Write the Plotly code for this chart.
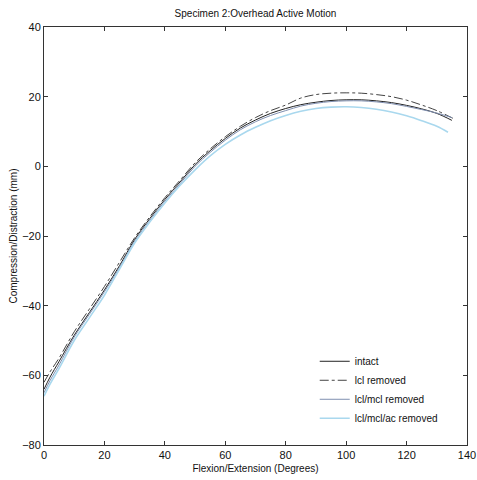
import plotly.graph_objects as go

x_deg = [0, 2, 5, 10, 15, 20, 25, 30, 35, 40, 45, 50, 55, 60, 65, 70, 75, 80, 85, 90, 95, 100, 105, 110, 115, 120, 125, 130, 135]

intact = [-64, -60.5, -56, -48.5, -42, -35.5, -28.5, -21, -15, -9.5, -4.5, 0.5, 4.5, 8, 11, 13.3, 15.2, 16.6, 17.7, 18.4, 18.9, 19.1, 19.1, 18.8, 18.3, 17.5, 16.5, 15.2, 13.2]
lcl_removed = [-62, -59, -55, -47.5, -41, -34.5, -27.5, -20.5, -14.5, -9, -4, 1, 5, 8.5, 11.5, 14, 16, 17.6, 19.6, 20.6, 21.0, 21.1, 21.0, 20.6, 20.0, 19.0, 17.6, 16.0, 13.5]
lcl_mcl_removed = [-65, -61.5, -57, -49, -42.5, -36, -29, -21.5, -15.5, -10, -5, 0, 4, 7.5, 10.5, 12.8, 14.6, 16.0, 17.3, 18.1, 18.6, 18.8, 18.8, 18.5, 18.0, 17.2, 16.3, 15.3, 14.0]
lcl_mcl_ac_removed = [-66, -62.5, -58, -50, -43.5, -37, -29.5, -22, -16, -10.5, -5.5, -1, 3, 6.3, 9, 11.2, 13.1, 14.6, 15.8, 16.6, 17.0, 17.1, 16.9, 16.4, 15.6, 14.5, 13.1, 11.5, 9.8]

x_end = [135, 136, 135, 133.7]

fig = go.Figure()
series = [
    ("intact", intact, dict(color="#222222", width=1, dash="solid")),
    ("lcl removed", lcl_removed, dict(color="#444444", width=1, dash="dashdot")),
    ("lcl/mcl removed", lcl_mcl_removed, dict(color="#7f8fb0", width=1, dash="solid")),
    ("lcl/mcl/ac removed", lcl_mcl_ac_removed, dict(color="#a9d8ee", width=1.6, dash="solid")),
]
for (name, ys, line), xe in zip(series, x_end):
    xs = x_deg[:-1] + [xe]
    fig.add_trace(go.Scatter(x=xs, y=ys, mode="lines", name=name, line=dict(shape="spline", **line)))

font_family = "Liberation Sans, Arial"
axis_common = dict(
    showgrid=False, zeroline=False, showline=True, linecolor="#333333", linewidth=1,
    mirror="ticks", ticks="inside", ticklen=4, tickcolor="#333333", automargin=False,
    ticklabeloverflow="allow",
    tickfont=dict(family=font_family, size=11, color="#111111"),
)
fig.update_xaxes(range=[0, 140], tickvals=[0, 20, 40, 60, 80, 100, 120, 140],
                 title=dict(text="Flexion/Extension (Degrees)", font=dict(family=font_family, size=10, color="#111111"), standoff=4),
                 **axis_common)
fig.update_yaxes(range=[-80, 40], tickvals=[-80, -60, -40, -20, 0, 20, 40],
                 title=dict(text="Compression/Distraction (mm)", font=dict(family=font_family, size=10, color="#111111"), standoff=2),
                 **axis_common)

W, H = 477, 480
fig.update_layout(
    width=W, height=H,
    margin=dict(l=44, r=10, t=27, b=35, autoexpand=False),
    paper_bgcolor="white", plot_bgcolor="white",
    title=dict(text="Specimen 2:Overhead Active Motion", x=(44 + 467) / 2 / W, xanchor="center",
               y=1 - 13 / H, yanchor="middle",
               font=dict(family=font_family, size=10, color="#111111")),
    legend=dict(x=0.64, y=0.235, xanchor="left", yanchor="top", bgcolor="rgba(255,255,255,0)",
                font=dict(family=font_family, size=10, color="#111111"),
                tracegroupgap=0, itemwidth=30),
    showlegend=True,
)

fig.write_html("out.html",
               config={"displayModeBar": False},
               post_script="document.body.style.margin='0';document.body.style.overflow='hidden';")
